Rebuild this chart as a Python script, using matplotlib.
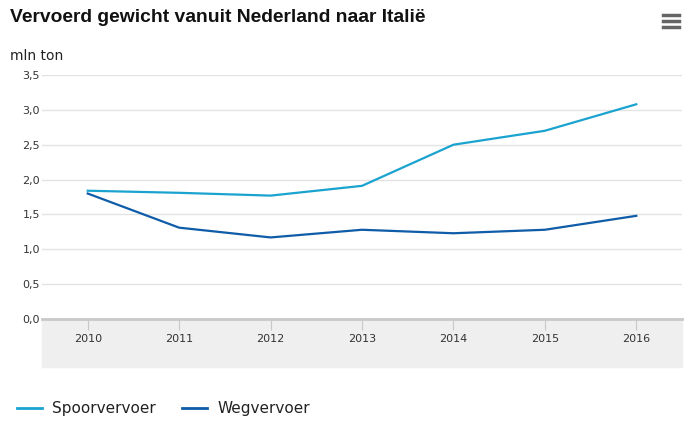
import matplotlib.pyplot as plt
from matplotlib.patches import Rectangle
from matplotlib.lines import Line2D

years = ['2010', '2011', '2012', '2013', '2014', '2015', '2016']
spoor = [1.84, 1.81, 1.77, 1.91, 2.50, 2.70, 3.08]
weg = [1.80, 1.31, 1.17, 1.28, 1.23, 1.28, 1.48]
yticks = [0.0, 0.5, 1.0, 1.5, 2.0, 2.5, 3.0, 3.5]

c_spoor = '#1ba3d0'
c_weg = '#0f5ca8'

W, H = 694, 421
fig = plt.figure(figsize=(W / 100, H / 100), dpi=100)

# plot area in pixels: x 42..682, y 75..319
ax = fig.add_axes([42 / W, 1 - 319 / H, 640 / W, 244 / H])
x = range(len(years))
ax.plot(x, spoor, color=c_spoor, lw=1.6, label='Spoorvervoer')
ax.plot(x, weg, color=c_weg, lw=1.6, label='Wegvervoer')
ax.set_xlim(-0.5, len(years) - 0.5)
ax.set_ylim(0, 3.5)
ax.set_yticks(yticks)
ax.set_yticklabels([f'{v:.1f}'.replace('.', ',') for v in yticks])
ax.yaxis.grid(True, color='#e3e3e3', lw=1)
ax.set_axisbelow(True)
for s in ['top', 'right', 'left']:
    ax.spines[s].set_visible(False)
ax.spines['bottom'].set_color('#c8c8c8')
ax.spines['bottom'].set_linewidth(2)
ax.tick_params(axis='y', length=0, labelsize=8, labelcolor='#333333', pad=14)
for lbl in ax.get_yticklabels():
    lbl.set_horizontalalignment('left')
ax.set_xticks(list(x))
ax.set_xticklabels(years)
ax.tick_params(axis='x', length=8, color='#c8c8c8', labelsize=8,
               labelcolor='#333333', pad=3)

# grey band under the axis
fig.patches.append(Rectangle((42 / W, 1 - 367 / H), 640 / W, 48 / H,
                             transform=fig.transFigure, color='#efefef',
                             zorder=-1))

fig.text(10 / W, 1 - 18 / H, 'Vervoerd gewicht vanuit Nederland naar Italië',
         fontsize=13.9, fontweight='bold', va='center', color='#111111',
         family='Liberation Sans')
fig.text(10 / W, 1 - 56 / H, 'mln ton', fontsize=10, va='center', color='#222222')

# menu icon
for yy in [15, 21, 27]:
    fig.add_artist(Line2D([663 / W, 679 / W], [1 - yy / H, 1 - yy / H],
                          color='#666666', lw=2.5, transform=fig.transFigure))

# legend
fig.add_artist(Line2D([17 / W, 42 / W], [1 - 408 / H] * 2, color=c_spoor,
                      lw=2, transform=fig.transFigure))
fig.text(52 / W, 1 - 408 / H, 'Spoorvervoer', fontsize=11, va='center',
         color='#222222')
fig.add_artist(Line2D([182 / W, 207 / W], [1 - 408 / H] * 2, color=c_weg,
                      lw=2, transform=fig.transFigure))
fig.text(217 / W, 1 - 408 / H, 'Wegvervoer', fontsize=11, va='center',
         color='#222222')

fig.savefig('out.png', dpi=100)
